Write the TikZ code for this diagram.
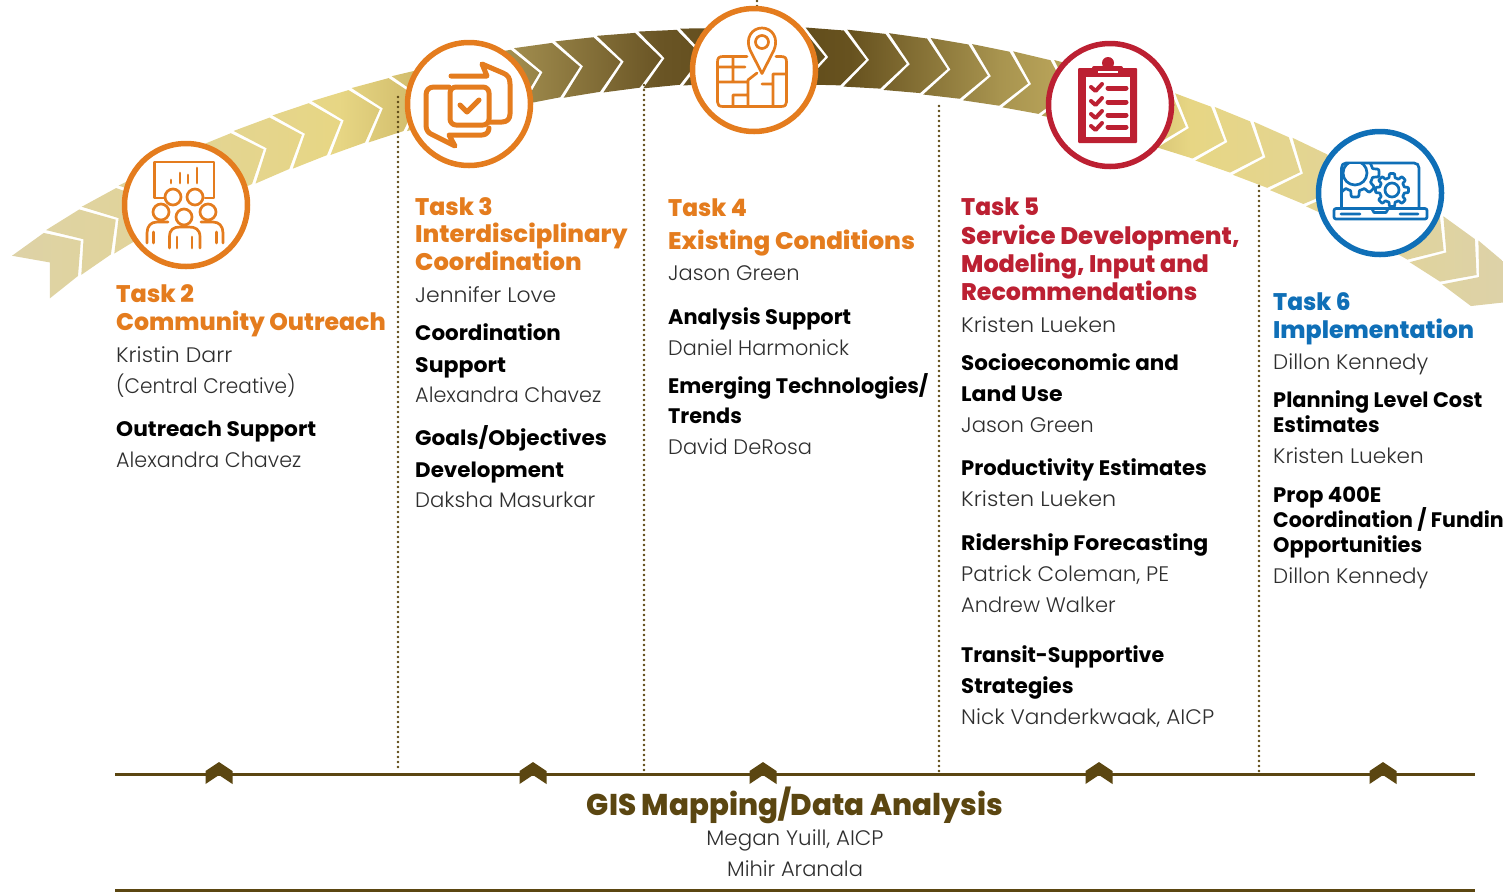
\documentclass[tikz,border=0pt]{standalone}
\usepackage{fontspec}
\setmainfont{Poppins}
\newfontfamily\bodyf{Poppins Light}
\newfontfamily\boldf{Poppins Bold}
\newfontfamily\headf{Poppins ExtraBold}
\definecolor{ora}{HTML}{E47C1E}
\definecolor{redd}{HTML}{BC2032}
\definecolor{bluu}{HTML}{0F6FB7}
\definecolor{brn}{HTML}{5B4611}
\definecolor{gA}{HTML}{DDD2A8}
\definecolor{gB}{HTML}{E7D684}
\definecolor{gC}{HTML}{D0BB6A}
\definecolor{gD}{HTML}{9E8A4C}
\definecolor{gE}{HTML}{6A5525}
\definecolor{gF}{HTML}{5E4919}
\definecolor{gG}{HTML}{67521F}
\definecolor{gH}{HTML}{A8944F}
\definecolor{gI}{HTML}{C4AE60}
\pgfdeclarehorizontalshading{goldband}{100bp}{color(0bp)=(gA); color(25bp)=(gA); color(35.6bp)=(gB); color(38.1bp)=(gC); color(41.25bp)=(gD); color(45.6bp)=(gE); color(48.75bp)=(gF); color(51.56bp)=(gG); color(56.25bp)=(gH); color(59.4bp)=(gI); color(62.2bp)=(gB); color(71.9bp)=(gA); color(100bp)=(gA)}
\tikzset{
  declare function={rc(\a)=1326-0.015*pow(max(0,abs(\a)-26),3);
    tilt(\a)=\a+0.9*(max(0,\a-24)-max(0,-\a-24));
    bx(\a,\r)=755+rc(\a)*sin(\a)+\r*sin(tilt(\a));
    by(\a,\r)=1381-rc(\a)*cos(\a)-\r*cos(tilt(\a));
    gr(\t,\n,\p,\q)=\p+(\q-\p)*min(1,max(0,0.5+1.6*cos(\n*\t)));},
  ring/.style={circle,fill=white,draw=#1,line width=5.5pt,minimum size=123pt,inner sep=0pt},
  icon/.style={draw=#1,line width=3.2pt,line cap=round,line join=round},
  thinicon/.style={draw=#1,line width=2.7pt,line cap=round,line join=round},
  sep/.style={draw=brn,line width=2.6pt,line cap=round,dash pattern=on 0pt off 5pt},
  rule/.style={draw=brn,line width=3pt},
  w/.style={xscale=#1,transform shape},
  body/.style={anchor=base west,inner sep=0pt,font=\bodyf\fontsize{21}{21}\selectfont,text=black!82},
  sub/.style={anchor=base west,inner sep=0pt,font=\boldf\fontsize{21}{21}\selectfont,text=black},
  head/.style={anchor=base west,inner sep=0pt,font=\headf\fontsize{24}{24}\selectfont,text=#1},
  marker/.style={fill=brn,draw=none},
}
\begin{document}
\begin{tikzpicture}[x=1pt,y=-1pt]
\useasboundingbox (0,0) rectangle (1503,892);
\begin{scope}
\clip (0,0) rectangle (1503,892);
% chevron band
\path[shading=goldband] (0,100) -- (0,100) (1600,100) -- (1600,100)
 \foreach \k [evaluate=\k as \a using {-30.6+1.77*\k}] in {0,...,37}{
  ({bx(\a,0)},{by(\a,0)})
  -- ({bx(\a-1.04,27.5)},{by(\a-1.04,27.5)})
  -- ({bx(\a-2.66,28.5)},{by(\a-2.66,28.5)})
  -- ({bx(\a-1.63,0)},{by(\a-1.63,0)})
  -- ({bx(\a-2.66,-28.5)},{by(\a-2.66,-28.5)})
  -- ({bx(\a-1.04,-27.5)},{by(\a-1.04,-27.5)})
  -- cycle
 };
\end{scope}
% separators
\coordinate (s1a) at (398,97); \coordinate (s1b) at (398,771);
\coordinate (s2a) at (644,85); \coordinate (s2b) at (644,771);
\coordinate (s3a) at (939,106); \coordinate (s3b) at (939,771);
\coordinate (s4a) at (1259,186); \coordinate (s4b) at (1259,771);
\coordinate (s5a) at (757,1); \coordinate (s5b) at (757,8);
\draw[sep] (s1a) -- (s1b);
\draw[sep] (s2a) -- (s2b);
\draw[sep] (s3a) -- (s3b);
\draw[sep] (s4a) -- (s4b);
\draw[sep] (s5a) -- (s5b);
% circles
\node[ring=ora] (c2) at (186,205) {};
\node[ring=ora] (c3) at (469,104) {};
\node[ring=ora] (c4) at (754,70) {};
\node[ring=redd] (c5) at (1110,105) {};
\node[ring=bluu] (c6) at (1380,193) {};
% icon task 2
\draw[thinicon=ora] (165,198) -- (154.5,198) -- (154.5,162) -- (214,162) -- (214,198) -- (205,198);
\draw[thinicon=ora] (171,183) -- (171,180) (180,183) -- (180,173) (188,183) -- (188,175) (197,183) -- (197,168);
\draw[thinicon=ora] (173,197) circle (8) (195,197) circle (8) (161,212) circle (8) (208,212) circle (8) (184,217) circle (8);
\draw[thinicon=ora] (169.5,248) -- (169.5,237) .. controls (169.5,229) and (174,227) .. (180,227) -- (189,227) .. controls (195,227) and (200,229) .. (200,237) -- (200,248) ;
\draw[thinicon=ora] (147,243) -- (147,233) .. controls (147,226) and (151,222) .. (157,222) -- (168,222);
\draw[thinicon=ora] (223,243) -- (223,233) .. controls (223,226) and (219,222) .. (213,222) -- (201,222);
\draw[thinicon=ora] (153.5,232) -- (153.5,243) (216.5,232) -- (216.5,243) (177,237) -- (177,248) (192,237) -- (192,248);
% icon task 3
\draw[icon=ora,line width=5pt] (451,76) -- (487,76) -- (482,64) -- (503,73) .. controls (508,75) and (510,78) .. (510,84) -- (510,114) .. controls (510,119) and (507,122) .. (502,122) -- (489,122);
\draw[icon=ora,line width=5pt] (449,87) -- (434,87) .. controls (429,87) and (426,90) .. (426,95) -- (426,125) .. controls (426,130) and (428,133) .. (433,135) -- (455,146) -- (449,135) -- (482,135) .. controls (486,135) and (489,132) .. (489,128);
\draw[icon=ora,line width=5pt,rounded corners=6pt] (450,87) rectangle (489,125);
\draw[icon=ora,line width=5pt] (460,105) -- (467,112) -- (479,100);
% icon task 4
\draw[thinicon=ora] (747,56.5) -- (723,56.5) .. controls (719,56.5) and (717.5,58) .. (717.5,62) -- (717.5,102) .. controls (717.5,105) and (719,106.5) .. (723,106.5) -- (781,106.5) .. controls (785,106.5) and (786.5,105) .. (786.5,102) -- (786.5,62) .. controls (786.5,58) and (785,56.5) .. (781,56.5) -- (776,56.5);
\draw[thinicon=ora] (717.5,67) -- (745,67) (733,56.5) -- (733,82) (717.5,82) -- (748,82) -- (748,80) -- (757,73) (733,95) -- (733,106.5) (748,82) -- (748,106.5) (733,95) -- (748,95) (762,84) -- (773,84) (773,74) -- (773,106.5) (773,74) -- (786.5,74);
\draw[thinicon=ora] (762,73.5) -- (750,50) .. controls (745,38) and (752,28) .. (762,28) .. controls (772,28) and (779,38) .. (774,50) -- cycle;
\draw[thinicon=ora] (762,42) circle (6.5);
% icon task 5
\path[fill=redd,rounded corners=1pt] (1078,68) rectangle (1137,143);
\path[fill=white] (1085.5,77) rectangle (1130,136.5);
\path[fill=redd,rounded corners=2pt] (1092,66) rectangle (1123,76);
\path[fill=redd] (1108,63) circle (6);
\path[fill=white] (1098,71) rectangle (1118,72.5);
\foreach \yy in {88,102,115,127}{
 \draw[icon=redd,line width=4pt] (1091,\yy-1) -- (1095.5,\yy+3) -- (1102,\yy-4);
 \draw[icon=redd,line width=5pt] (1108,\yy) -- (1126,\yy);
}
% icon task 6
\draw[thinicon=bluu] (1341.5,208) -- (1341.5,168) .. controls (1341.5,165) and (1343,163) .. (1346,163) -- (1414,163) .. controls (1417,163) and (1419,165) .. (1419,168) -- (1419,208);
\draw[thinicon=bluu,rounded corners=2pt] (1334,208.5) rectangle (1427,219);
\draw[thinicon=bluu] (1341,214) -- (1360,214) (1400,214) -- (1418,214) (1372,209) -- (1374,212.5) -- (1386,212.5) -- (1388,209);
\begin{scope}
\clip (1342,164) rectangle (1385,207);
\draw[thinicon=bluu] plot[domain=0:360,samples=145,smooth] ({1355+gr(\x,8,18,24)*cos(\x)},{173+gr(\x,8,18,24)*sin(\x)});
\draw[thinicon=bluu,fill=white] (1355,173) circle (12);
\end{scope}
\draw[thinicon=bluu,fill=white] plot[domain=0:360,samples=145,smooth] ({1392+gr(\x,8,12.5,16.5)*cos(\x)},{190+gr(\x,8,12.5,16.5)*sin(\x)}) -- cycle;
\draw[thinicon=bluu] (1392,190) circle (7);
% rules
\coordinate (r1a) at (115,774); \coordinate (r1b) at (1475,774);
\coordinate (r2a) at (115,890); \coordinate (r2b) at (1475,890);
\draw[rule] (r1a) -- (r1b);
\draw[rule] (r2a) -- (r2b);
\foreach \mx in {219,533,763,1099,1383}{
 \path[marker] (\mx,762) -- (\mx+13.5,771) -- (\mx+13.5,784) -- (\mx,775) -- (\mx-13.5,784) -- (\mx-13.5,771) -- cycle;
}
% task 2 text
\node[head=ora,w=.995] (a1) at (116,302) {Task 2};
\node[head=ora,w=.985] (a2) at (116,330) {Community Outreach};
\node[body,w=1.05] (a3) at (116,362) {Kristin Darr};
\node[body,w=.955] (a4) at (116,393) {(Central Creative)};
\node[sub,w=1.035] (a5) at (116,436) {Outreach Support};
\node[body,w=.985] (a6) at (116,467) {Alexandra Chavez};
% task 3 text
\node[head=ora,w=.98] (b1) at (415,215) {Task 3};
\node[head=ora,w=1.015] (b2) at (415,242) {Interdisciplinary};
\node[head=ora,w=1.008] (b3) at (415,270) {Coordination};
\node[body,w=1.045] (b4) at (415,302) {Jennifer Love};
\node[sub,w=1.02] (b5) at (415,340) {Coordination};
\node[sub,w=1.05] (b6) at (415,372) {Support};
\node[body,w=.99] (b7) at (415,402) {Alexandra Chavez};
\node[sub,w=1.03] (b8) at (415,445) {Goals/Objectives};
\node[sub,w=1.02] (b9) at (415,477) {Development};
\node[body,w=1.01] (b10) at (415,507.5) {Daksha Masurkar};
% task 4 text
\node[head=ora,w=.97] (d1) at (668,216) {Task 4};
\node[head=ora,w=1.026] (d2) at (668,249) {Existing Conditions};
\node[body] (d3) at (668,280) {Jason Green};
\node[sub,w=.995] (d4) at (668,324) {Analysis Support};
\node[body,w=.99] (d5) at (668,355) {Daniel Harmonick};
\node[sub,w=.99] (d6) at (668,393) {Emerging Technologies/};
\node[sub,w=.99] (d7) at (668,423.5) {Trends};
\node[body] (d8) at (668,454.5) {David DeRosa};
% task 5 text
\node[head=redd,w=.97] (e1) at (961,215.5) {Task 5};
\node[head=redd,w=1.018] (e2) at (961,244.5) {Service Development,};
\node[head=redd,w=.995] (e3) at (961,272.5) {Modeling, Input and};
\node[head=redd,w=.99] (e4) at (961,300.5) {Recommendations};
\node[body,w=1.06] (e5) at (961,332) {Kristen Lueken};
\node[sub,w=1.02] (e6) at (961,370) {Socioeconomic and};
\node[sub,w=1.05] (e7) at (961,401) {Land Use};
\node[body,w=1.01] (e8) at (961,432) {Jason Green};
\node[sub,w=1.005] (e9) at (961,475) {Productivity Estimates};
\node[body,w=1.06] (e10) at (961,506) {Kristen Lueken};
\node[sub,w=1.05] (e11) at (961,550) {Ridership Forecasting};
\node[body,w=1.025] (e12) at (961,581) {Patrick Coleman, PE};
\node[body] (e13) at (961,612) {Andrew Walker};
\node[sub,w=.98] (e14) at (961,662) {Transit-Supportive};
\node[sub,w=1.01] (e15) at (961,693) {Strategies};
\node[body,w=1.03] (e16) at (961,724) {Nick Vanderkwaak, AICP};
% task 6 text
\node[head=bluu,w=.97] (f1) at (1273,310) {Task 6};
\node[head=bluu,w=.985] (f2) at (1273,338.5) {Implementation};
\node[body,w=1.02] (f3) at (1273,369.5) {Dillon Kennedy};
\node[sub,w=.995] (f4) at (1273,407.5) {Planning Level Cost};
\node[sub,w=.99] (f5) at (1273,432.5) {Estimates};
\node[body,w=1.03] (f6) at (1273,463) {Kristen Lueken};
\node[sub,w=1.01] (f7) at (1273,502) {Prop 400E};
\node[sub,w=.978] (f8) at (1273,527) {Coordination / Fundin};
\node[sub,w=.995] (f9) at (1273,552) {Opportunities};
\node[body,w=1.02] (f10) at (1273,583) {Dillon Kennedy};
% GIS
\node[anchor=base,inner sep=0pt,font=\headf\fontsize{30}{30}\selectfont,text=brn,w=.978] (g1) at (795,815) {GIS Mapping/Data Analysis};
\node[body,anchor=base,w=1.02] (g2) at (795,845) {Megan Yuill, AICP};
\node[body,anchor=base] (g3) at (795,876) {Mihir Aranala};
\end{tikzpicture}
\end{document}
